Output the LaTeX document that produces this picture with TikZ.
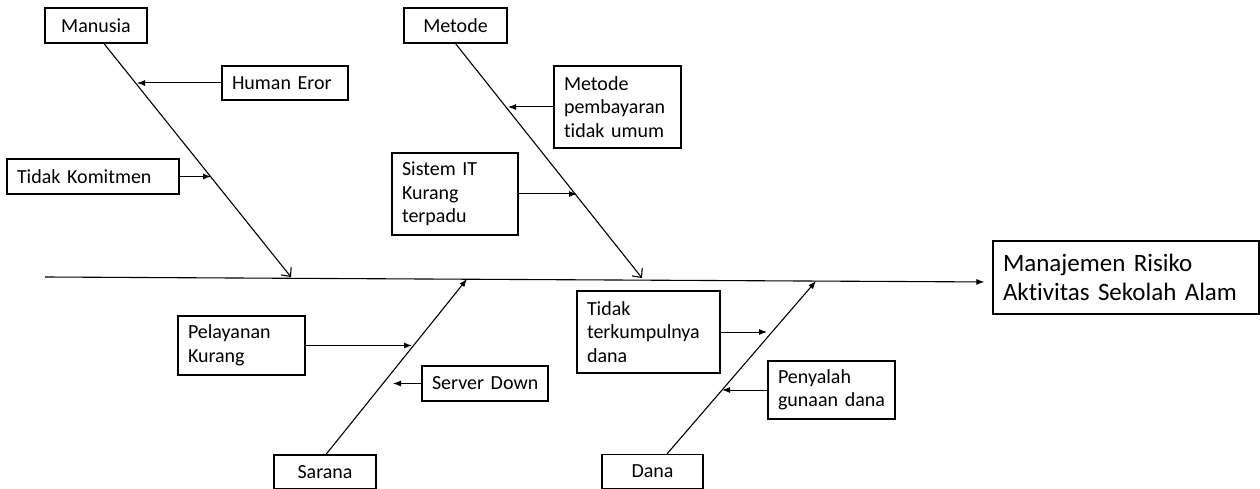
\documentclass[tikz,border=0pt]{standalone}
\usepackage{fontspec}
\setmainfont{Carlito}[Ligatures=NoCommon, WordSpace=0.7]
\usetikzlibrary{arrows.meta}
\usetikzlibrary{positioning}
\tikzstyle{arrow} = [line width=1pt, -{Latex[length=8pt,width=6pt]}]
\tikzstyle{bone} = [line width=1.1pt, -{Straight Barb[length=7pt,width=13pt]}]
\tikzstyle{bonefill} = [line width=1.1pt, -{Latex[length=8pt,width=6pt]}]
\tikzstyle{category} = [rectangle, draw=black, line width=1.2pt, minimum height=35pt, text centered, font=\fontsize{20}{23.5}\selectfont]
\tikzstyle{cause} = [rectangle, draw=black, line width=1.2pt, align=left, inner xsep=10pt, font=\fontsize{20}{23.5}\selectfont]
\tikzstyle{effect} = [rectangle, draw=black, line width=1.2pt, align=left, inner xsep=10pt, font=\fontsize{25}{29}\selectfont]

\begin{document}
\begin{tikzpicture}[x=1pt, y=-1pt]

            \useasboundingbox (0,0) rectangle (1260,489);

            \node (MANUSIA) [category, minimum width=102pt] at (96,25.5) {Manusia};
            \node (METODE) [category, minimum width=103pt] at (455.5,25.5) {Metode};
            \node (SARANA) [category, minimum width=102pt, minimum height=34pt] at (325,472) {Sarana};
            \node (DANA) [category, minimum width=101pt, minimum height=34pt] at (652.5,471.5) {Dana};
            \node (RISIKO) [effect, text width=246pt, minimum height=73pt] at (1126,277.5) {Manajemen Risiko\\Aktivitas Sekolah Alam};

            \node (HUMANEROR) [cause, text width=106pt, minimum height=34pt] at (285,83) {Human Eror};
            \node (KOMITMEN) [cause, text width=152pt, minimum height=35pt] at (93,176.5) {Tidak Komitmen};
            \node (PEMBAYARAN) [cause, text width=107pt, minimum height=82pt] at (617.5,107) {Metode\\pembayaran\\tidak umum};
            \node (SISTEMIT) [cause, text width=106pt, minimum height=82pt] at (455,194) {Sistem IT\\Kurang\\terpadu};
            \node (PELAYANAN) [cause, text width=107pt, minimum height=59pt] at (241.5,345.5) {Pelayanan\\Kurang};
            \node (SERVER) [cause, text width=106pt, minimum height=35pt] at (485,383.5) {Server~Down};
            \node (TERKUMPUL) [cause, text width=123pt, minimum height=82pt] at (648.5,332) {Tidak\\terkumpulnya\\dana};
            \node (PENYALAH) [cause, text width=107pt, minimum height=58pt] at (831.5,390) {Penyalah\\gunaan dana};

            \coordinate (TAIL) at (45,277);
            \coordinate (HEADMANUSIA) at (291,277);
            \coordinate (HEADMETODE) at (642,278);
            \coordinate (HEADSARANA) at (467,279);
            \coordinate (HEADDANA) at (816,281);

            \coordinate (ONHUMAN) at (137,83);
            \coordinate (ONKOMITMEN) at (211,176.5);
            \coordinate (ONPEMBAYARAN) at (508,107);
            \coordinate (ONSISTEM) at (577,194);
            \coordinate (ONPELAYANAN) at (412,345.5);
            \coordinate (ONSERVER) at (393,383.5);
            \coordinate (ONTERKUMPUL) at (767,332);
            \coordinate (ONPENYALAH) at (722,390);

            \draw [arrow, line width=1.1pt, shorten >=8pt] (TAIL) -- ([yshift=-4.5pt]RISIKO.west);

            \draw [bone] ([xshift=8pt]MANUSIA.south) -- (HEADMANUSIA);
            \draw [bone] (METODE.south) -- (HEADMETODE);
            \draw [bonefill] ([xshift=1pt]SARANA.north) -- (HEADSARANA);
            \draw [bonefill] ([xshift=14.5pt]DANA.north) -- (HEADDANA);

            \draw [arrow] (HUMANEROR) -- (ONHUMAN);
            \draw [arrow] (KOMITMEN) -- (ONKOMITMEN);
            \draw [arrow] (PEMBAYARAN) -- (ONPEMBAYARAN);
            \draw [arrow] (SISTEMIT) -- (ONSISTEM);
            \draw [arrow] (PELAYANAN) -- (ONPELAYANAN);
            \draw [arrow] (SERVER) -- (ONSERVER);
            \draw [arrow] (TERKUMPUL) -- (ONTERKUMPUL);
            \draw [arrow] (PENYALAH) -- (ONPENYALAH);

\end{tikzpicture}
\end{document}
